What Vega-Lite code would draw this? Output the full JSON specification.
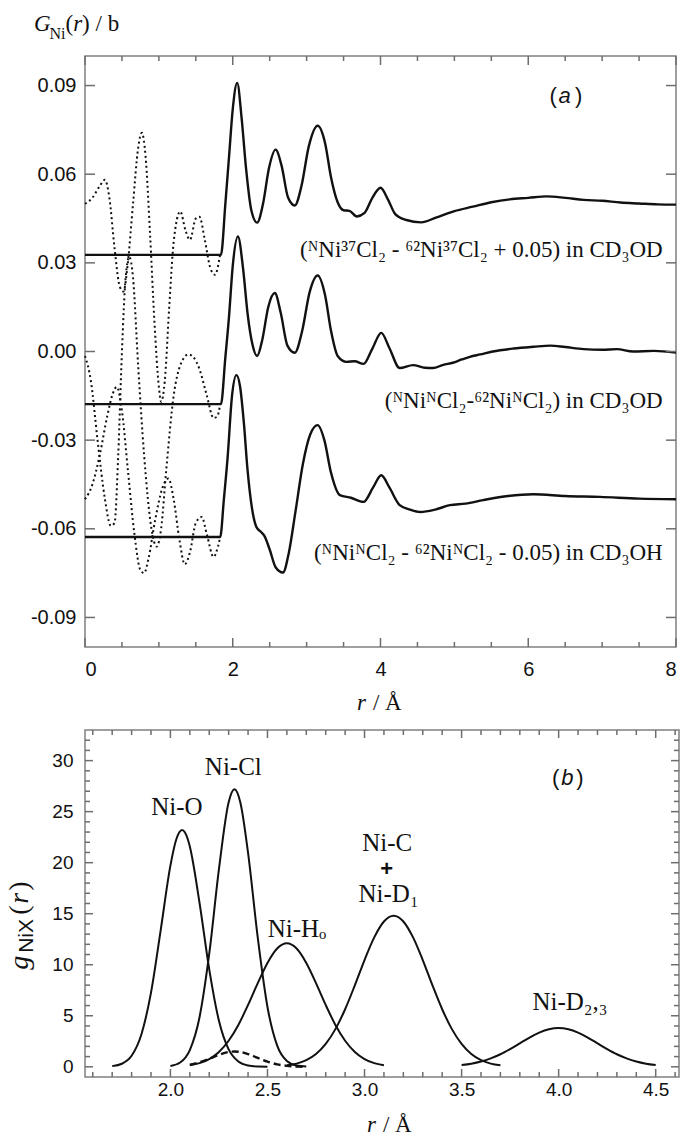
{
  "$schema": "https://vega.github.io/schema/vega-lite/v6.json",
  "background": "white",
  "padding": {"left": 5, "top": 12, "right": 0, "bottom": 0},
  "spacing": 13,
  "config": {
    "view": {"stroke": "#808080", "strokeWidth": 1.5},
    "axis": {"domain": false, "grid": false, "ticks": false, "tickSize": 0, "labelFont": "Liberation Sans", "labelFontSize": 20, "labelColor": "#111", "title": null},
    "text": {"font": "Liberation Serif", "color": "#111"},
    "tick": {"color": "#6e6e6e", "opacity": 1, "thickness": 1.5}
  },
  "datasets": {
    "a_xmaj": [{"v":0},{"v":2},{"v":4},{"v":6},{"v":8}],
    "a_xmin": [{"v":0.5},{"v":1},{"v":1.5},{"v":2.5},{"v":3},{"v":3.5},{"v":4.5},{"v":5},{"v":5.5},{"v":6.5},{"v":7},{"v":7.5}],
    "a_ymaj": [{"v":-0.09},{"v":-0.06},{"v":-0.03},{"v":0},{"v":0.03},{"v":0.06},{"v":0.09}],
    "b_xmaj": [{"v":2},{"v":2.5},{"v":3},{"v":3.5},{"v":4},{"v":4.5}],
    "b_xmin": [{"v":1.6},{"v":1.7},{"v":1.8},{"v":1.9},{"v":2.1},{"v":2.2},{"v":2.3},{"v":2.4},{"v":2.6},{"v":2.7},{"v":2.8},{"v":2.9},{"v":3.1},{"v":3.2},{"v":3.3},{"v":3.4},{"v":3.6},{"v":3.7},{"v":3.8},{"v":3.9},{"v":4.1},{"v":4.2},{"v":4.3},{"v":4.4},{"v":4.6}],
    "b_ymaj": [{"v":0},{"v":5},{"v":10},{"v":15},{"v":20},{"v":25},{"v":30}],
    "b_ymin": [{"v":1},{"v":2},{"v":3},{"v":4},{"v":6},{"v":7},{"v":8},{"v":9},{"v":11},{"v":12},{"v":13},{"v":14},{"v":16},{"v":17},{"v":18},{"v":19},{"v":21},{"v":22},{"v":23},{"v":24},{"v":26},{"v":27},{"v":28},{"v":29},{"v":31},{"v":32}],
    "a_solid": [
      {"s":"T","r":0,"g":0.0327},{"s":"T","r":1.84,"g":0.0327},{"s":"T","r":1.9,"g":0.05},{"s":"T","r":1.95,"g":0.066},{"s":"T","r":2.0,"g":0.082},{"s":"T","r":2.06,"g":0.0909},{"s":"T","r":2.12,"g":0.079},{"s":"T","r":2.18,"g":0.062},{"s":"T","r":2.25,"g":0.048},{"s":"T","r":2.33,"g":0.0436},{"s":"T","r":2.41,"g":0.05},{"s":"T","r":2.49,"g":0.062},{"s":"T","r":2.58,"g":0.0683},{"s":"T","r":2.66,"g":0.063},{"s":"T","r":2.75,"g":0.052},{"s":"T","r":2.84,"g":0.0494},{"s":"T","r":2.93,"g":0.056},{"s":"T","r":3.03,"g":0.0695},{"s":"T","r":3.15,"g":0.0764},{"s":"T","r":3.25,"g":0.0705},{"s":"T","r":3.33,"g":0.059},{"s":"T","r":3.42,"g":0.0505},{"s":"T","r":3.5,"g":0.0478},{"s":"T","r":3.58,"g":0.0476},{"s":"T","r":3.68,"g":0.0457},{"s":"T","r":3.78,"g":0.0468},{"s":"T","r":3.89,"g":0.052},{"s":"T","r":4.0,"g":0.0554},{"s":"T","r":4.1,"g":0.0515},{"s":"T","r":4.2,"g":0.0465},{"s":"T","r":4.35,"g":0.0445},{"s":"T","r":4.55,"g":0.0437},{"s":"T","r":4.75,"g":0.0453},{"s":"T","r":5.0,"g":0.0475},{"s":"T","r":5.25,"g":0.049},{"s":"T","r":5.5,"g":0.0505},{"s":"T","r":5.75,"g":0.0515},{"s":"T","r":6.0,"g":0.052},{"s":"T","r":6.25,"g":0.0525},{"s":"T","r":6.5,"g":0.052},{"s":"T","r":6.75,"g":0.0513},{"s":"T","r":7.0,"g":0.051},{"s":"T","r":7.25,"g":0.0504},{"s":"T","r":7.5,"g":0.0501},{"s":"T","r":7.75,"g":0.0498},{"s":"T","r":8.0,"g":0.0497},
      {"s":"M","r":0,"g":-0.0178},{"s":"M","r":1.84,"g":-0.0178},{"s":"M","r":1.9,"g":-0.002},{"s":"M","r":1.95,"g":0.012},{"s":"M","r":2.0,"g":0.029},{"s":"M","r":2.07,"g":0.0389},{"s":"M","r":2.14,"g":0.028},{"s":"M","r":2.2,"g":0.013},{"s":"M","r":2.27,"g":0.002},{"s":"M","r":2.33,"g":-0.0015},{"s":"M","r":2.4,"g":0.004},{"s":"M","r":2.48,"g":0.015},{"s":"M","r":2.57,"g":0.0198},{"s":"M","r":2.65,"g":0.013},{"s":"M","r":2.74,"g":0.002},{"s":"M","r":2.84,"g":-0.0004},{"s":"M","r":2.94,"g":0.007},{"s":"M","r":3.04,"g":0.02},{"s":"M","r":3.15,"g":0.0257},{"s":"M","r":3.25,"g":0.019},{"s":"M","r":3.33,"g":0.007},{"s":"M","r":3.42,"g":-0.0015},{"s":"M","r":3.54,"g":-0.0035},{"s":"M","r":3.65,"g":-0.0033},{"s":"M","r":3.77,"g":-0.0042},{"s":"M","r":3.89,"g":0.001},{"s":"M","r":4.01,"g":0.0063},{"s":"M","r":4.12,"g":0.0012},{"s":"M","r":4.26,"g":-0.0056},{"s":"M","r":4.44,"g":-0.0046},{"s":"M","r":4.6,"g":-0.0055},{"s":"M","r":4.71,"g":-0.0056},{"s":"M","r":4.85,"g":-0.0045},{"s":"M","r":4.98,"g":-0.0038},{"s":"M","r":5.1,"g":-0.0027},{"s":"M","r":5.21,"g":-0.0018},{"s":"M","r":5.35,"g":-0.001},{"s":"M","r":5.52,"g":0.0},{"s":"M","r":5.8,"g":0.001},{"s":"M","r":6.07,"g":0.0016},{"s":"M","r":6.3,"g":0.002},{"s":"M","r":6.5,"g":0.0015},{"s":"M","r":6.75,"g":0.0008},{"s":"M","r":7.0,"g":0.0006},{"s":"M","r":7.2,"g":0.0008},{"s":"M","r":7.42,"g":0.0},{"s":"M","r":7.7,"g":0.0002},{"s":"M","r":8.0,"g":-0.0004},
      {"s":"B","r":0,"g":-0.0628},{"s":"B","r":1.83,"g":-0.0628},{"s":"B","r":1.88,"g":-0.05},{"s":"B","r":1.93,"g":-0.036},{"s":"B","r":1.99,"g":-0.015},{"s":"B","r":2.05,"g":-0.008},{"s":"B","r":2.1,"g":-0.012},{"s":"B","r":2.15,"g":-0.024},{"s":"B","r":2.2,"g":-0.04},{"s":"B","r":2.26,"g":-0.053},{"s":"B","r":2.32,"g":-0.0594},{"s":"B","r":2.38,"g":-0.061},{"s":"B","r":2.43,"g":-0.0625},{"s":"B","r":2.5,"g":-0.067},{"s":"B","r":2.58,"g":-0.073},{"s":"B","r":2.68,"g":-0.0748},{"s":"B","r":2.76,"g":-0.068},{"s":"B","r":2.85,"g":-0.054},{"s":"B","r":2.95,"g":-0.038},{"s":"B","r":3.05,"g":-0.028},{"s":"B","r":3.15,"g":-0.0249},{"s":"B","r":3.24,"g":-0.03},{"s":"B","r":3.33,"g":-0.041},{"s":"B","r":3.45,"g":-0.0486},{"s":"B","r":3.6,"g":-0.0495},{"s":"B","r":3.77,"g":-0.0509},{"s":"B","r":3.9,"g":-0.046},{"s":"B","r":4.01,"g":-0.0419},{"s":"B","r":4.12,"g":-0.046},{"s":"B","r":4.26,"g":-0.052},{"s":"B","r":4.4,"g":-0.0535},{"s":"B","r":4.54,"g":-0.0543},{"s":"B","r":4.74,"g":-0.0535},{"s":"B","r":4.94,"g":-0.052},{"s":"B","r":5.15,"g":-0.0515},{"s":"B","r":5.39,"g":-0.0503},{"s":"B","r":5.7,"g":-0.049},{"s":"B","r":6.07,"g":-0.0483},{"s":"B","r":6.5,"g":-0.0489},{"s":"B","r":6.97,"g":-0.0492},{"s":"B","r":7.5,"g":-0.0498},{"s":"B","r":8.0,"g":-0.05}
    ],
    "a_dotted": [
      {"s":"T","r":0,"g":0.05},{"s":"T","r":0.1,"g":0.052},{"s":"T","r":0.2,"g":0.056},{"s":"T","r":0.27,"g":0.0581},{"s":"T","r":0.33,"g":0.052},{"s":"T","r":0.4,"g":0.035},{"s":"T","r":0.47,"g":0.022},{"s":"T","r":0.52,"g":0.0203},{"s":"T","r":0.58,"g":0.03},{"s":"T","r":0.65,"g":0.05},{"s":"T","r":0.72,"g":0.069},{"s":"T","r":0.77,"g":0.074},{"s":"T","r":0.82,"g":0.066},{"s":"T","r":0.88,"g":0.04},{"s":"T","r":0.94,"g":0.01},{"s":"T","r":1.0,"g":-0.012},{"s":"T","r":1.03,"g":-0.017},{"s":"T","r":1.08,"g":-0.01},{"s":"T","r":1.14,"g":0.015},{"s":"T","r":1.2,"g":0.037},{"s":"T","r":1.29,"g":0.0474},{"s":"T","r":1.36,"g":0.041},{"s":"T","r":1.42,"g":0.0378},{"s":"T","r":1.5,"g":0.045},{"s":"T","r":1.55,"g":0.0456},{"s":"T","r":1.62,"g":0.038},{"s":"T","r":1.7,"g":0.028},{"s":"T","r":1.76,"g":0.026},{"s":"T","r":1.83,"g":0.033},
      {"s":"M","r":0,"g":-0.0015},{"s":"M","r":0.08,"g":-0.01},{"s":"M","r":0.17,"g":-0.03},{"s":"M","r":0.27,"g":-0.05},{"s":"M","r":0.35,"g":-0.059},{"s":"M","r":0.4,"g":-0.058},{"s":"M","r":0.45,"g":-0.035},{"s":"M","r":0.5,"g":0.0},{"s":"M","r":0.55,"g":0.025},{"s":"M","r":0.6,"g":0.032},{"s":"M","r":0.65,"g":0.025},{"s":"M","r":0.72,"g":-0.005},{"s":"M","r":0.8,"g":-0.035},{"s":"M","r":0.9,"g":-0.06},{"s":"M","r":0.97,"g":-0.066},{"s":"M","r":1.03,"g":-0.06},{"s":"M","r":1.1,"g":-0.04},{"s":"M","r":1.2,"g":-0.015},{"s":"M","r":1.3,"g":-0.004},{"s":"M","r":1.4,"g":-0.001},{"s":"M","r":1.47,"g":-0.002},{"s":"M","r":1.55,"g":-0.006},{"s":"M","r":1.65,"g":-0.015},{"s":"M","r":1.74,"g":-0.0225},{"s":"M","r":1.79,"g":-0.022},{"s":"M","r":1.83,"g":-0.0178},
      {"s":"B","r":0,"g":-0.05},{"s":"B","r":0.1,"g":-0.045},{"s":"B","r":0.2,"g":-0.035},{"s":"B","r":0.3,"g":-0.022},{"s":"B","r":0.38,"g":-0.014},{"s":"B","r":0.43,"g":-0.012},{"s":"B","r":0.5,"g":-0.02},{"s":"B","r":0.58,"g":-0.04},{"s":"B","r":0.67,"g":-0.062},{"s":"B","r":0.75,"g":-0.074},{"s":"B","r":0.8,"g":-0.075},{"s":"B","r":0.86,"g":-0.07},{"s":"B","r":0.95,"g":-0.057},{"s":"B","r":1.05,"g":-0.046},{"s":"B","r":1.13,"g":-0.043},{"s":"B","r":1.2,"g":-0.05},{"s":"B","r":1.28,"g":-0.064},{"s":"B","r":1.35,"g":-0.072},{"s":"B","r":1.42,"g":-0.068},{"s":"B","r":1.5,"g":-0.058},{"s":"B","r":1.58,"g":-0.056},{"s":"B","r":1.65,"g":-0.062},{"s":"B","r":1.74,"g":-0.0695},{"s":"B","r":1.8,"g":-0.066},{"s":"B","r":1.83,"g":-0.0628}
    ],
    "a_txt": [
      {"part":"G","text":"G","r":-0.69,"g":0.1084},
      {"part":"Ni","text":"Ni","r":-0.481,"g":0.1056},
      {"part":"lp","text":"(","r":-0.264,"g":0.1084},
      {"part":"r","text":"r","r":-0.16,"g":0.1084},
      {"part":"rp","text":") / b","r":-0.039,"g":0.1084},
      {"part":"xr","text":"r","r":3.682,"g":-0.1213},
      {"part":"xs","text":"/ Å","r":3.898,"g":-0.1213},
      {"part":"L1","text":"(ᴺNi³⁷Cl₂ - ⁶²Ni³⁷Cl₂ + 0.05) in CD₃OD","r":7.82,"g":0.0321},
      {"part":"L2","text":"(ᴺNiᴺCl₂-⁶²NiᴺCl₂) in CD₃OD","r":7.82,"g":-0.0192},
      {"part":"L3","text":"(ᴺNiᴺCl₂ - ⁶²NiᴺCl₂ - 0.05) in CD₃OH","r":7.82,"g":-0.0707},
      {"part":"pa1","text":"(","r":6.288,"g":0.0842},
      {"part":"pa2","text":"a","r":6.41,"g":0.0842},
      {"part":"pa3","text":")","r":6.633,"g":0.0842}
    ],
    "b_curves": [
      {"s":"O","r":1.70,"g":0.065},{"s":"O","r":1.75,"g":0.297},{"s":"O","r":1.80,"g":1.08},{"s":"O","r":1.85,"g":3.14},{"s":"O","r":1.90,"g":7.27},{"s":"O","r":1.95,"g":13.4},{"s":"O","r":2.00,"g":19.71},{"s":"O","r":2.03,"g":22.27},{"s":"O","r":2.06,"g":23.2},{"s":"O","r":2.09,"g":22.27},{"s":"O","r":2.10,"g":21.58},{"s":"O","r":2.15,"g":16.07},{"s":"O","r":2.20,"g":9.54},{"s":"O","r":2.25,"g":4.51},{"s":"O","r":2.30,"g":1.7},{"s":"O","r":2.35,"g":0.51},{"s":"O","r":2.40,"g":0.123},{"s":"O","r":2.45,"g":0.023},{"s":"O","r":2.50,"g":0.004},
      {"s":"Cl","r":2.00,"g":0.083},{"s":"Cl","r":2.05,"g":0.42},{"s":"Cl","r":2.10,"g":1.64},{"s":"Cl","r":2.15,"g":4.86},{"s":"Cl","r":2.20,"g":11.08},{"s":"Cl","r":2.25,"g":19.36},{"s":"Cl","r":2.30,"g":25.93},{"s":"Cl","r":2.33,"g":27.2},{"s":"Cl","r":2.36,"g":25.93},{"s":"Cl","r":2.40,"g":20.96},{"s":"Cl","r":2.45,"g":12.65},{"s":"Cl","r":2.50,"g":5.86},{"s":"Cl","r":2.55,"g":2.08},{"s":"Cl","r":2.60,"g":0.57},{"s":"Cl","r":2.65,"g":0.118},{"s":"Cl","r":2.70,"g":0.019},
      {"s":"H","r":2.10,"g":0.16},{"s":"H","r":2.15,"g":0.36},{"s":"H","r":2.20,"g":0.76},{"s":"H","r":2.25,"g":1.45},{"s":"H","r":2.30,"g":2.55},{"s":"H","r":2.35,"g":4.1},{"s":"H","r":2.40,"g":6.06},{"s":"H","r":2.45,"g":8.2},{"s":"H","r":2.50,"g":10.18},{"s":"H","r":2.55,"g":11.59},{"s":"H","r":2.60,"g":12.1},{"s":"H","r":2.65,"g":11.59},{"s":"H","r":2.70,"g":10.18},{"s":"H","r":2.75,"g":8.2},{"s":"H","r":2.80,"g":6.06},{"s":"H","r":2.85,"g":4.1},{"s":"H","r":2.90,"g":2.55},{"s":"H","r":2.95,"g":1.45},{"s":"H","r":3.00,"g":0.76},{"s":"H","r":3.05,"g":0.36},{"s":"H","r":3.10,"g":0.16},
      {"s":"C","r":2.60,"g":0.14},{"s":"C","r":2.65,"g":0.31},{"s":"C","r":2.70,"g":0.65},{"s":"C","r":2.75,"g":1.25},{"s":"C","r":2.80,"g":2.24},{"s":"C","r":2.85,"g":3.69},{"s":"C","r":2.90,"g":5.64},{"s":"C","r":2.95,"g":7.98},{"s":"C","r":3.00,"g":10.46},{"s":"C","r":3.05,"g":12.68},{"s":"C","r":3.10,"g":14.24},{"s":"C","r":3.15,"g":14.8},{"s":"C","r":3.20,"g":14.24},{"s":"C","r":3.25,"g":12.68},{"s":"C","r":3.30,"g":10.46},{"s":"C","r":3.35,"g":7.98},{"s":"C","r":3.40,"g":5.64},{"s":"C","r":3.45,"g":3.69},{"s":"C","r":3.50,"g":2.24},{"s":"C","r":3.55,"g":1.25},{"s":"C","r":3.60,"g":0.65},{"s":"C","r":3.65,"g":0.31},{"s":"C","r":3.70,"g":0.14},
      {"s":"D","r":3.50,"g":0.17},{"s":"D","r":3.55,"g":0.3},{"s":"D","r":3.60,"g":0.51},{"s":"D","r":3.65,"g":0.82},{"s":"D","r":3.70,"g":1.23},{"s":"D","r":3.75,"g":1.74},{"s":"D","r":3.80,"g":2.3},{"s":"D","r":3.85,"g":2.87},{"s":"D","r":3.90,"g":3.35},{"s":"D","r":3.95,"g":3.68},{"s":"D","r":4.00,"g":3.8},{"s":"D","r":4.05,"g":3.68},{"s":"D","r":4.10,"g":3.35},{"s":"D","r":4.15,"g":2.87},{"s":"D","r":4.20,"g":2.3},{"s":"D","r":4.25,"g":1.74},{"s":"D","r":4.30,"g":1.23},{"s":"D","r":4.35,"g":0.82},{"s":"D","r":4.40,"g":0.51},{"s":"D","r":4.45,"g":0.3},{"s":"D","r":4.50,"g":0.17}
    ],
    "b_dash": [
      {"s":"X","r":2.10,"g":0.2},{"s":"X","r":2.15,"g":0.44},{"s":"X","r":2.20,"g":0.79},{"s":"X","r":2.25,"g":1.18},{"s":"X","r":2.30,"g":1.45},{"s":"X","r":2.33,"g":1.5},{"s":"X","r":2.35,"g":1.48},{"s":"X","r":2.40,"g":1.25},{"s":"X","r":2.45,"g":0.87},{"s":"X","r":2.50,"g":0.5},{"s":"X","r":2.55,"g":0.24},{"s":"X","r":2.60,"g":0.095},{"s":"X","r":2.65,"g":0.03},{"s":"X","r":2.70,"g":0.005}
    ],
    "b_txt": [
      {"part":"g","text":"g","r":1.266,"g":9.5},
      {"part":"NiX","text":"NiX","r":1.292,"g":11.17},
      {"part":"lp","text":"(","r":1.266,"g":14.89},
      {"part":"rr","text":"r","r":1.266,"g":15.97},
      {"part":"rp","text":")","r":1.266,"g":17.24},
      {"part":"xr","text":"r","r":3.013,"g":-6.39},
      {"part":"xs","text":"/ Å","r":3.095,"g":-6.39},
      {"part":"pb1","text":"(","r":3.966,"g":27.6},
      {"part":"pb2","text":"b","r":4.014,"g":27.6},
      {"part":"pb3","text":")","r":4.091,"g":27.6},
      {"part":"c1","text":"Ni-O","r":2.033,"g":24.7},
      {"part":"c2","text":"Ni-Cl","r":2.324,"g":28.6},
      {"part":"c3","text":"Ni-C","r":3.117,"g":21.1},
      {"part":"l1","text":"Ni-Hₒ","r":2.501,"g":12.7},
      {"part":"l2","text":"Ni-D₁","r":2.969,"g":16.1},
      {"part":"l3","text":"Ni-D₂,₃","r":3.865,"g":5.6},
      {"part":"plus","text":"+","r":3.114,"g":19.4}
    ]
  },
  "vconcat": [
    {
      "width": 591,
      "height": 591,
      "layer": [
        {
          "data": {"name": "a_solid"},
          "mark": {"type": "line", "interpolate": "monotone", "strokeWidth": 2.4, "color": "#111"},
          "encoding": {
            "x": {"field": "r", "type": "quantitative", "scale": {"domain": [0, 8], "nice": false, "zero": false},
                  "axis": {"orient": "bottom", "values": [0, 2, 4, 6, 8], "format": "d", "labelPadding": 12, "title": null}},
            "y": {"field": "g", "type": "quantitative", "scale": {"domain": [-0.1, 0.1], "nice": false, "zero": false},
                  "axis": {"orient": "left", "values": [-0.09, -0.06, -0.03, 0, 0.03, 0.06, 0.09], "labelExpr": "replace(format(datum.value, '.2f'), '−', '-')", "labelPadding": 9, "title": null}},
            "detail": {"field": "s"}
          }
        },
        {
          "data": {"name": "a_dotted"},
          "mark": {"type": "line", "interpolate": "monotone", "strokeWidth": 2, "strokeDash": [2, 3], "color": "#111"},
          "encoding": {
            "x": {"field": "r", "type": "quantitative", "axis": null},
            "y": {"field": "g", "type": "quantitative", "axis": null},
            "detail": {"field": "s"}
          }
        },
        {
          "data": {"name": "a_xmaj"},
          "mark": {"type": "tick", "orient": "vertical", "size": 9},
          "encoding": {"x": {"field": "v", "type": "quantitative", "axis": null}, "y": {"datum": -0.098477, "type": "quantitative", "axis": null}}
        },
        {
          "data": {"name": "a_xmaj"},
          "mark": {"type": "tick", "orient": "vertical", "size": 9},
          "encoding": {"x": {"field": "v", "type": "quantitative", "axis": null}, "y": {"datum": 0.098477, "type": "quantitative", "axis": null}}
        },
        {
          "data": {"name": "a_xmin"},
          "mark": {"type": "tick", "orient": "vertical", "size": 5},
          "encoding": {"x": {"field": "v", "type": "quantitative", "axis": null}, "y": {"datum": -0.099154, "type": "quantitative", "axis": null}}
        },
        {
          "data": {"name": "a_xmin"},
          "mark": {"type": "tick", "orient": "vertical", "size": 5},
          "encoding": {"x": {"field": "v", "type": "quantitative", "axis": null}, "y": {"datum": 0.099154, "type": "quantitative", "axis": null}}
        },
        {
          "data": {"name": "a_ymaj"},
          "mark": {"type": "tick", "orient": "horizontal", "size": 10},
          "encoding": {"y": {"field": "v", "type": "quantitative", "axis": null}, "x": {"datum": 0.06768, "type": "quantitative", "axis": null}}
        },
        {
          "data": {"name": "a_ymaj"},
          "mark": {"type": "tick", "orient": "horizontal", "size": 10},
          "encoding": {"y": {"field": "v", "type": "quantitative", "axis": null}, "x": {"datum": 7.93232, "type": "quantitative", "axis": null}}
        },
        {
          "data": {"name": "a_txt"},
          "transform": [{"filter": {"field": "part", "oneOf": ["L1", "L2", "L3"]}}],
          "mark": {"type": "text", "align": "right", "baseline": "alphabetic", "fontSize": 23, "font": "Liberation Serif"},
          "encoding": {
            "x": {"field": "r", "type": "quantitative", "axis": null},
            "y": {"field": "g", "type": "quantitative", "axis": null},
            "text": {"field": "text"}
          }
        },
        {
          "data": {"name": "a_txt"},
          "transform": [{"filter": {"field": "part", "oneOf": ["G", "r", "xr"]}}],
          "mark": {"type": "text", "align": "left", "baseline": "alphabetic", "fontSize": 23, "font": "Liberation Serif", "fontStyle": "italic"},
          "encoding": {
            "x": {"field": "r", "type": "quantitative", "axis": null},
            "y": {"field": "g", "type": "quantitative", "axis": null},
            "text": {"field": "text"}
          }
        },
        {
          "data": {"name": "a_txt"},
          "transform": [{"filter": {"field": "part", "oneOf": ["lp", "rp", "xs"]}}],
          "mark": {"type": "text", "align": "left", "baseline": "alphabetic", "fontSize": 23, "font": "Liberation Serif"},
          "encoding": {
            "x": {"field": "r", "type": "quantitative", "axis": null},
            "y": {"field": "g", "type": "quantitative", "axis": null},
            "text": {"field": "text"}
          }
        },
        {
          "data": {"name": "a_txt"},
          "transform": [{"filter": {"field": "part", "oneOf": ["Ni"]}}],
          "mark": {"type": "text", "align": "left", "baseline": "alphabetic", "fontSize": 16, "font": "Liberation Serif"},
          "encoding": {
            "x": {"field": "r", "type": "quantitative", "axis": null},
            "y": {"field": "g", "type": "quantitative", "axis": null},
            "text": {"field": "text"}
          }
        },
        {
          "data": {"name": "a_txt"},
          "transform": [{"filter": {"field": "part", "oneOf": ["pa1", "pa3"]}}],
          "mark": {"type": "text", "align": "left", "baseline": "alphabetic", "fontSize": 22, "font": "Liberation Sans"},
          "encoding": {
            "x": {"field": "r", "type": "quantitative", "axis": null},
            "y": {"field": "g", "type": "quantitative", "axis": null},
            "text": {"field": "text"}
          }
        },
        {
          "data": {"name": "a_txt"},
          "transform": [{"filter": {"field": "part", "oneOf": ["pa2"]}}],
          "mark": {"type": "text", "align": "left", "baseline": "alphabetic", "fontSize": 22, "font": "Liberation Sans", "fontStyle": "italic"},
          "encoding": {
            "x": {"field": "r", "type": "quantitative", "axis": null},
            "y": {"field": "g", "type": "quantitative", "axis": null},
            "text": {"field": "text"}
          }
        }
      ],
      "resolve": {"axis": {"x": "independent", "y": "independent"}}
    },
    {
      "width": 594,
      "height": 347,
      "layer": [
        {
          "data": {"name": "b_curves"},
          "mark": {"type": "line", "interpolate": "monotone", "strokeWidth": 2, "color": "#111"},
          "encoding": {
            "x": {"field": "r", "type": "quantitative", "scale": {"domain": [1.56, 4.62], "nice": false, "zero": false},
                  "axis": {"orient": "bottom", "values": [2, 2.5, 3, 3.5, 4, 4.5], "format": ".1f", "labelFontSize": 19, "labelPadding": 3, "title": null}},
            "y": {"field": "g", "type": "quantitative", "scale": {"domain": [-1, 33], "nice": false, "zero": false},
                  "axis": {"orient": "left", "values": [0, 5, 10, 15, 20, 25, 30], "labelFontSize": 19, "labelPadding": 12, "title": null}},
            "detail": {"field": "s"}
          }
        },
        {
          "data": {"name": "b_dash"},
          "mark": {"type": "line", "interpolate": "monotone", "strokeWidth": 2.4, "strokeDash": [7, 4], "color": "#111"},
          "encoding": {
            "x": {"field": "r", "type": "quantitative", "axis": null},
            "y": {"field": "g", "type": "quantitative", "axis": null},
            "detail": {"field": "s"}
          }
        },
        {
          "data": {"name": "b_xmaj"},
          "mark": {"type": "tick", "orient": "vertical", "size": 8},
          "encoding": {"x": {"field": "v", "type": "quantitative", "axis": null}, "y": {"datum": -0.6081, "type": "quantitative", "axis": null}}
        },
        {
          "data": {"name": "b_xmaj"},
          "mark": {"type": "tick", "orient": "vertical", "size": 8},
          "encoding": {"x": {"field": "v", "type": "quantitative", "axis": null}, "y": {"datum": 32.6081, "type": "quantitative", "axis": null}}
        },
        {
          "data": {"name": "b_xmin"},
          "mark": {"type": "tick", "orient": "vertical", "size": 5},
          "encoding": {"x": {"field": "v", "type": "quantitative", "axis": null}, "y": {"datum": -0.755, "type": "quantitative", "axis": null}}
        },
        {
          "data": {"name": "b_xmin"},
          "mark": {"type": "tick", "orient": "vertical", "size": 5},
          "encoding": {"x": {"field": "v", "type": "quantitative", "axis": null}, "y": {"datum": 32.755, "type": "quantitative", "axis": null}}
        },
        {
          "data": {"name": "b_ymaj"},
          "mark": {"type": "tick", "orient": "horizontal", "size": 8},
          "encoding": {"y": {"field": "v", "type": "quantitative", "axis": null}, "x": {"datum": 1.58061, "type": "quantitative", "axis": null}}
        },
        {
          "data": {"name": "b_ymaj"},
          "mark": {"type": "tick", "orient": "horizontal", "size": 8},
          "encoding": {"y": {"field": "v", "type": "quantitative", "axis": null}, "x": {"datum": 4.59939, "type": "quantitative", "axis": null}}
        },
        {
          "data": {"name": "b_ymin"},
          "mark": {"type": "tick", "orient": "horizontal", "size": 5},
          "encoding": {"y": {"field": "v", "type": "quantitative", "axis": null}, "x": {"datum": 1.57288, "type": "quantitative", "axis": null}}
        },
        {
          "data": {"name": "b_ymin"},
          "mark": {"type": "tick", "orient": "horizontal", "size": 5},
          "encoding": {"y": {"field": "v", "type": "quantitative", "axis": null}, "x": {"datum": 4.60712, "type": "quantitative", "axis": null}}
        },
        {
          "data": {"name": "b_txt"},
          "transform": [{"filter": {"field": "part", "oneOf": ["c1", "c2", "c3"]}}],
          "mark": {"type": "text", "align": "center", "baseline": "alphabetic", "fontSize": 25, "font": "Liberation Serif"},
          "encoding": {
            "x": {"field": "r", "type": "quantitative", "axis": null},
            "y": {"field": "g", "type": "quantitative", "axis": null},
            "text": {"field": "text"}
          }
        },
        {
          "data": {"name": "b_txt"},
          "transform": [{"filter": {"field": "part", "oneOf": ["l1", "l2", "l3"]}}],
          "mark": {"type": "text", "align": "left", "baseline": "alphabetic", "fontSize": 25, "font": "Liberation Serif"},
          "encoding": {
            "x": {"field": "r", "type": "quantitative", "axis": null},
            "y": {"field": "g", "type": "quantitative", "axis": null},
            "text": {"field": "text"}
          }
        },
        {
          "data": {"name": "b_txt"},
          "transform": [{"filter": {"field": "part", "oneOf": ["plus"]}}],
          "mark": {"type": "text", "align": "center", "baseline": "middle", "fontSize": 22, "font": "Liberation Sans", "fontWeight": "bold"},
          "encoding": {
            "x": {"field": "r", "type": "quantitative", "axis": null},
            "y": {"field": "g", "type": "quantitative", "axis": null},
            "text": {"field": "text"}
          }
        },
        {
          "data": {"name": "b_txt"},
          "transform": [{"filter": {"field": "part", "oneOf": ["xr"]}}],
          "mark": {"type": "text", "align": "left", "baseline": "alphabetic", "fontSize": 23, "font": "Liberation Serif", "fontStyle": "italic"},
          "encoding": {
            "x": {"field": "r", "type": "quantitative", "axis": null},
            "y": {"field": "g", "type": "quantitative", "axis": null},
            "text": {"field": "text"}
          }
        },
        {
          "data": {"name": "b_txt"},
          "transform": [{"filter": {"field": "part", "oneOf": ["xs"]}}],
          "mark": {"type": "text", "align": "left", "baseline": "alphabetic", "fontSize": 23, "font": "Liberation Serif"},
          "encoding": {
            "x": {"field": "r", "type": "quantitative", "axis": null},
            "y": {"field": "g", "type": "quantitative", "axis": null},
            "text": {"field": "text"}
          }
        },
        {
          "data": {"name": "b_txt"},
          "transform": [{"filter": {"field": "part", "oneOf": ["g", "rr"]}}],
          "mark": {"type": "text", "align": "left", "baseline": "alphabetic", "angle": 270, "fontSize": 28, "font": "Liberation Serif", "fontStyle": "italic"},
          "encoding": {
            "x": {"field": "r", "type": "quantitative", "axis": null},
            "y": {"field": "g", "type": "quantitative", "axis": null},
            "text": {"field": "text"}
          }
        },
        {
          "data": {"name": "b_txt"},
          "transform": [{"filter": {"field": "part", "oneOf": ["lp", "rp"]}}],
          "mark": {"type": "text", "align": "left", "baseline": "alphabetic", "angle": 270, "fontSize": 28, "font": "Liberation Serif"},
          "encoding": {
            "x": {"field": "r", "type": "quantitative", "axis": null},
            "y": {"field": "g", "type": "quantitative", "axis": null},
            "text": {"field": "text"}
          }
        },
        {
          "data": {"name": "b_txt"},
          "transform": [{"filter": {"field": "part", "oneOf": ["NiX"]}}],
          "mark": {"type": "text", "align": "left", "baseline": "alphabetic", "angle": 270, "fontSize": 21, "font": "Liberation Sans"},
          "encoding": {
            "x": {"field": "r", "type": "quantitative", "axis": null},
            "y": {"field": "g", "type": "quantitative", "axis": null},
            "text": {"field": "text"}
          }
        },
        {
          "data": {"name": "b_txt"},
          "transform": [{"filter": {"field": "part", "oneOf": ["pb1", "pb3"]}}],
          "mark": {"type": "text", "align": "left", "baseline": "alphabetic", "fontSize": 22, "font": "Liberation Sans"},
          "encoding": {
            "x": {"field": "r", "type": "quantitative", "axis": null},
            "y": {"field": "g", "type": "quantitative", "axis": null},
            "text": {"field": "text"}
          }
        },
        {
          "data": {"name": "b_txt"},
          "transform": [{"filter": {"field": "part", "oneOf": ["pb2"]}}],
          "mark": {"type": "text", "align": "left", "baseline": "alphabetic", "fontSize": 22, "font": "Liberation Sans", "fontStyle": "italic"},
          "encoding": {
            "x": {"field": "r", "type": "quantitative", "axis": null},
            "y": {"field": "g", "type": "quantitative", "axis": null},
            "text": {"field": "text"}
          }
        }
      ],
      "resolve": {"axis": {"x": "independent", "y": "independent"}}
    }
  ]
}
